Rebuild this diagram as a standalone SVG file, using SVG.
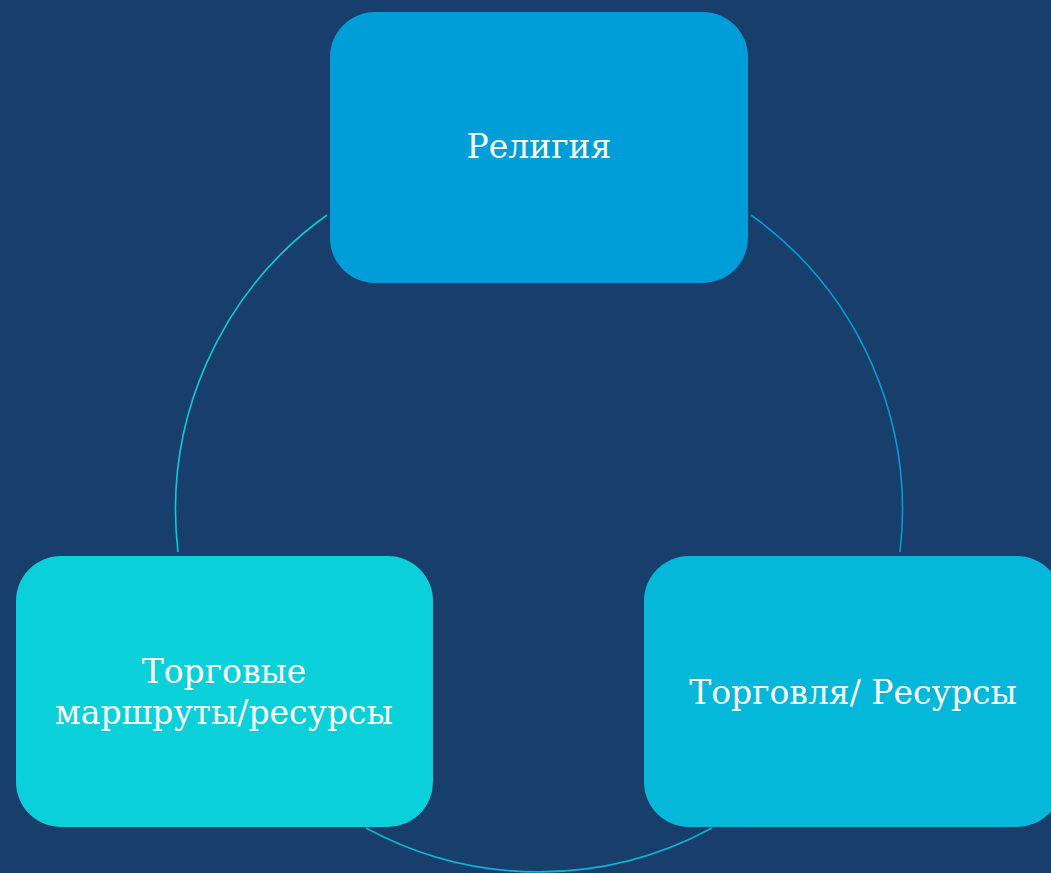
<svg xmlns="http://www.w3.org/2000/svg" width="1051" height="873" viewBox="0 0 1051 873">
<style>
.lbl{font-family:"DejaVu Serif","Liberation Serif",serif;font-size:33px;fill:#ffffff;text-anchor:middle;font-weight:300}
.arc{fill:none;stroke-width:1.6}
</style>
<rect x="0" y="0" width="1051" height="873" fill="#183F6B"/>
<g id="connectors">
<path class="arc" d="M327,215 A363,363 0 0 0 178,552" stroke="#0BCBD8"/>
<path class="arc" d="M751,215 A363,363 0 0 1 900,552" stroke="#019CD9"/>
<path class="arc" d="M712,828 A363,363 0 0 1 366,828" stroke="#06B7DA"/>
</g>
<g id="node-religion">
<rect x="330" y="12" width="418" height="271" rx="45" fill="#009ED9"/>
<text class="lbl" x="539" y="158">Религия</text>
</g>
<g id="node-routes">
<rect x="16" y="556" width="417" height="271" rx="45" fill="#0BD0D9"/>
<text class="lbl" x="224" y="683">Торговые</text>
<text class="lbl" x="224" y="724">маршруты/ресурсы</text>
</g>
<g id="node-trade">
<rect x="644" y="556" width="418" height="271" rx="45" fill="#05B8DA"/>
<text class="lbl" x="853" y="704">Торговля/ Ресурсы</text>
</g>
</svg>
